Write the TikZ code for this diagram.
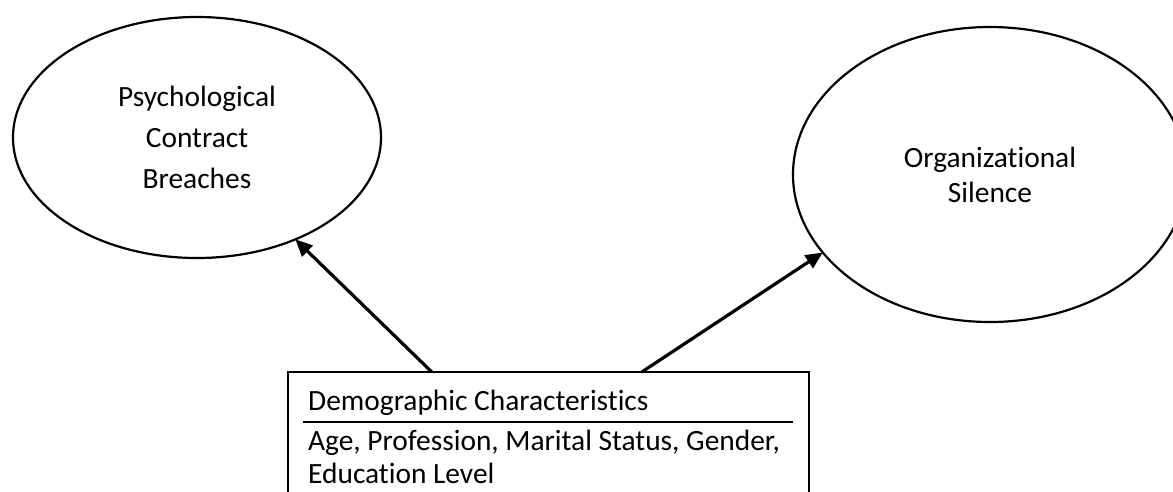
\documentclass[tikz,border=0pt]{standalone}
\usepackage{fontspec}
\setmainfont{Carlito}[Ligatures={NoCommon,NoContextual}]
\usetikzlibrary{shapes.geometric,arrows.meta,calc}
\begin{document}
\begin{tikzpicture}[x=1pt,y=-1pt,
  every node/.style={font=\fontsize{29.4}{35}\selectfont},
  construct/.style={ellipse, draw, line width=2.2pt, inner sep=0pt, outer sep=0pt, align=center},
  frame/.style={draw, line width=2.2pt, inner sep=0pt, outer sep=0pt, anchor=north west},
  caption/.style={inner sep=0pt, anchor=base west, align=left},
  link/.style={line width=3.2pt, -{Triangle[length=17pt,width=15pt]}}]
\useasboundingbox (0,0) rectangle (1173,491);
\clip (0,0) rectangle (1173,491);
\fill[white] (0,0) rectangle (1173,491);

% the two constructs
\node[construct, minimum width=368pt, minimum height=241pt,
      font=\fontsize{29.4}{41}\selectfont] (pcb) at (197,137.5)
      {Psychological\\Contract\\Breaches};
\node[construct, minimum width=394pt, minimum height=295pt] (os) at (990,174.5)
      {Organizational\\Silence};

% demographic box, open at the bottom edge
\node[frame, minimum width=521pt, minimum height=140pt] (demo) at (288,372) {};
\node[caption] (title) at (308,410) {Demographic Characteristics};
\draw[line width=1.5pt] (303,422) -- (793,422);
\node[caption] (items1) at (308,450) {Age, Profession, Marital Status, Gender,};
\node[caption] (items2) at (308,483) {Education Level};

% influence arrows
\draw[link] ($(demo.north west)!0.276!(demo.north east)$) -- (pcb.-46);
\draw[link] ($(demo.north west)!0.679!(demo.north east)$) -- (os.205.6);
\end{tikzpicture}
\end{document}
